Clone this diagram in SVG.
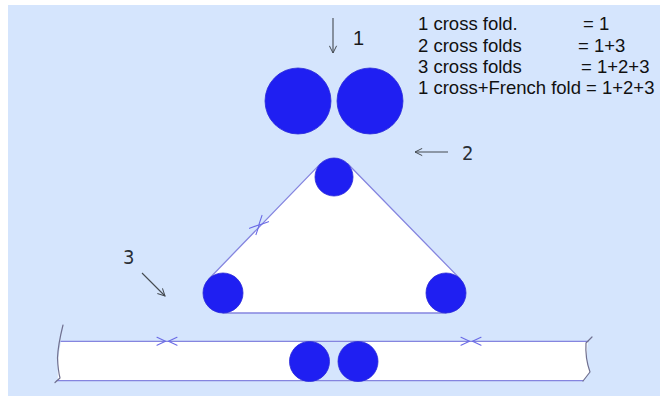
<svg xmlns="http://www.w3.org/2000/svg" width="667" height="396" viewBox="0 0 667 396">
  <style>
    .roller { fill: #1f1ff2; stroke: #2a2ad8; stroke-width: 0.8; }
    .paper { fill: #ffffff; stroke: none; }
    .edge { fill: none; stroke: #8585df; stroke-width: 1.3; stroke-linecap: round; stroke-linejoin: round; }
    .cut { fill: none; stroke: #707090; stroke-width: 1.2; stroke-linecap: round; stroke-linejoin: round; }
    .tick { fill: none; stroke: #6a6ae6; stroke-width: 1.1; stroke-linecap: round; stroke-linejoin: round; }
    .arrow { fill: none; stroke: #444a50; stroke-width: 1.1; marker-end: url(#head); }
    .legend { font-family: "Liberation Sans", Arial, sans-serif; font-size: 18.5px; fill: #111111; }
    .num1 { font-family: "Liberation Sans", Arial, sans-serif; font-size: 20px; fill: #1a1a1a; }
    .num { font-family: "DejaVu Sans Condensed", "DejaVu Sans", sans-serif; font-stretch: condensed; font-size: 20px; fill: #2a2f36; }
  </style>
  <defs>
    <marker id="head" viewBox="0 0 10 10" refX="9" refY="5" markerWidth="9" markerHeight="9" markerUnits="userSpaceOnUse" orient="auto">
      <path d="M1,1 L9,5 L1,9" fill="none" stroke="#444a50" stroke-width="1.1"/>
    </marker>
    <path id="cross" d="M-9,-4.5 L0.5,0 L-9,4.5 M9,-4.5 L-0.5,0 L9,4.5"/>
    <path id="pinch" d="M-10,-4 L-1.5,0 L-10,4 M10,-4 L1.5,0 L10,4"/>
  </defs>

  <rect x="8" y="5" width="652" height="391" fill="#d5e5fd"/>

  <g id="legend">
    <text class="legend" x="418" y="30">1 cross fold.</text>
    <text class="legend" x="583" y="30">= 1</text>
    <text class="legend" x="418" y="51.5">2 cross folds</text>
    <text class="legend" x="578" y="51.5">= 1+3</text>
    <text class="legend" x="418" y="72.5">3 cross folds</text>
    <text class="legend" x="581" y="72.5">= 1+2+3</text>
    <text class="legend" x="418" y="94">1 cross+French fold</text>
    <text class="legend" x="586" y="94">= 1+2+3</text>
  </g>

  <g id="top-rollers">
    <circle class="roller" cx="298" cy="101" r="33"/>
    <circle class="roller" cx="370" cy="101" r="33"/>
  </g>

  <g id="triangle-belt">
    <path class="paper" d="M208.6,279.2 L320.3,163.9 A19,19 0 0 1 347.7,163.8 L460.4,279.1 A20,20 0 0 1 446,313 L223,313 A20,20 0 0 1 208.6,279.2 Z"/>
    <path class="edge" d="M208.6,279.2 L320.3,163.9 M347.7,163.8 L460.4,279.1 M223,313 L446,313"/>
    <use href="#cross" class="tick" transform="translate(259,225) rotate(-46)"/>
    <circle class="roller" cx="334" cy="177" r="19"/>
    <circle class="roller" cx="223" cy="293" r="20"/>
    <circle class="roller" cx="446" cy="293" r="20"/>
  </g>

  <g id="paper-strip">
    <path class="paper" d="M61,341.3 L310,341.3 L310,380.7 L58,380.7 Q57,360 61,341.3 Z"/>
    <path class="paper" d="M358,341.3 L588,341.3 Q585,360 590,372 L583,380.7 L358,380.7 Z"/>
    <path class="edge" d="M61,341.3 L588,341.3 M57,380.7 L583,380.7"/>
    <path class="cut" d="M63,325 Q58,345 57.5,358 Q58,370 60,378 L55,382.5"/>
    <path class="cut" d="M592,337 L586,343 Q585,358 590,372 L583,381"/>
    <use href="#pinch" class="tick" transform="translate(167,341.3)"/>
    <use href="#pinch" class="tick" transform="translate(471,341.3)"/>
    <circle class="roller" cx="309.5" cy="361.5" r="20"/>
    <circle class="roller" cx="358" cy="361.5" r="20"/>
  </g>

  <g id="connectors">
    <line class="arrow" x1="333" y1="18" x2="333" y2="53"/>
    <line class="arrow" x1="448" y1="152" x2="415" y2="152"/>
    <line class="arrow" x1="142" y1="273" x2="165" y2="296"/>
  </g>

  <g id="labels">
    <text class="num1" x="353" y="45">1</text>
    <text class="num" x="462" y="160">2</text>
    <text class="num" x="123" y="264">3</text>
  </g>
</svg>
